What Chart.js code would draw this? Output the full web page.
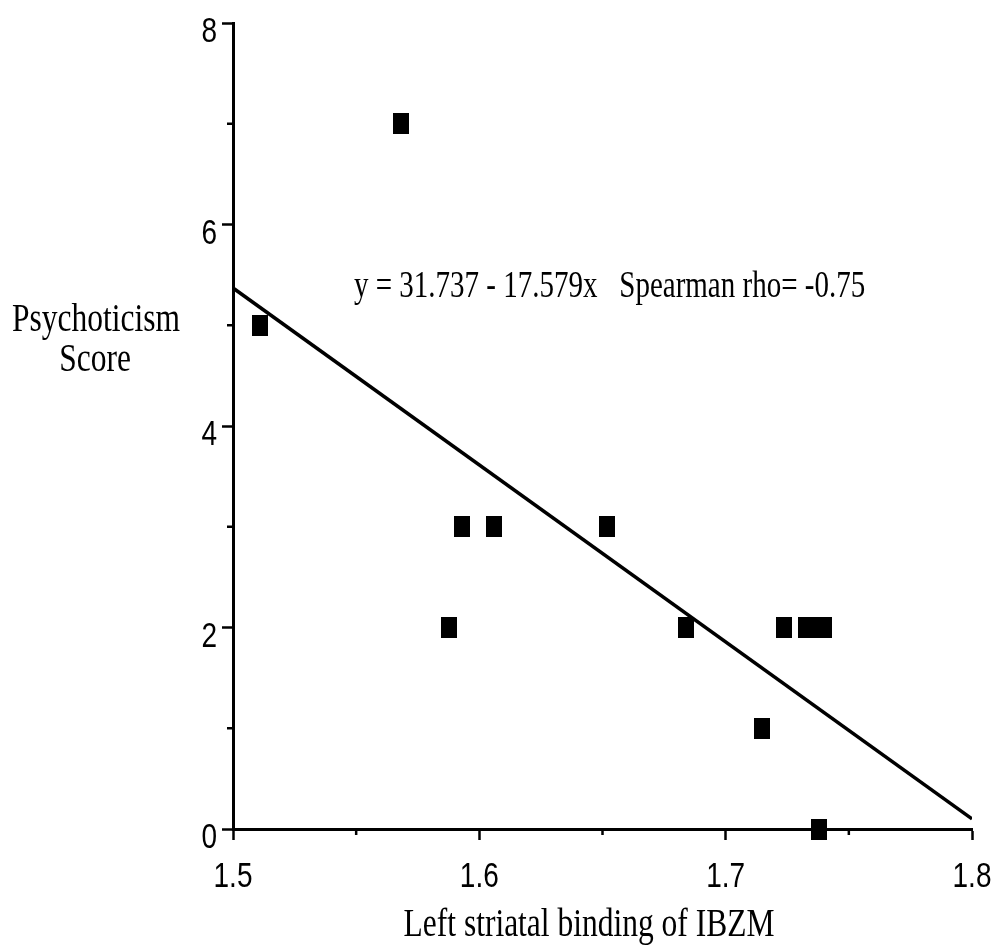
<!DOCTYPE html>
<html>
<head>
<meta charset="utf-8">
<script src="https://cdn.jsdelivr.net/npm/chart.js@4.4.1/dist/chart.umd.min.js"></script>
<style>
  html, body { margin: 0; padding: 0; background: #fff; }
  #wrap { width: 997px; height: 946px; position: relative; }
</style>
</head>
<body>
<div id="wrap"><canvas id="scoreChart"></canvas></div>
<script>
// scatter values
const bindingValues = [1.511, 1.568, 1.5875, 1.593, 1.606, 1.652, 1.684, 1.7146, 1.7235, 1.7326, 1.7362, 1.7399, 1.7377];
const scoreValues   = [5, 7, 2, 3, 3, 3, 2, 1, 2, 2, 2, 2, 0];

// fitted line ends (y = 31.737 - 17.579x)
const lineX = [1.5, 1.8];
const lineY = [5.37, 0.10];

const xTickLabels = ['1.5', '1.6', '1.7', '1.8'];
const yTickLabels = ['0', '2', '4', '6', '8'];

const xTitle = 'Left striatal binding of IBZM';
const yTitle = ['Psychoticism', 'Score'];
const fitNote = 'y = 31.737 - 17.579x   Spearman rho= -0.75';

const STRETCH = 1.28;
const serif = '"Liberation Serif", "Times New Roman", serif';
const sans = '"Liberation Sans", Arial, sans-serif';

// tall black block marker like the scanned figure
const marker = document.createElement('canvas');
marker.width = 16;
marker.height = 21;
const mctx = marker.getContext('2d');
mctx.fillStyle = '#000';
mctx.fillRect(0, 0, 16, 21);

function isMajorX(v) {
    return Math.abs(v * 10 - Math.round(v * 10)) < 1e-6;
}
function isMajorY(v) {
    return Math.round(v) % 2 === 0;
}

function stretchedText(ctx, text, x, y, font, align) {
    ctx.save();
    ctx.font = font;
    ctx.textAlign = align;
    ctx.textBaseline = 'alphabetic';
    ctx.fillStyle = '#000';
    ctx.translate(x, y);
    ctx.scale(1, STRETCH);
    ctx.fillText(text, 0, 0);
    ctx.restore();
}

const axisDecor = {
    id: 'axisDecor',
    afterDraw(chart) {
        const ctx = chart.ctx;
        const xs = chart.scales.x;
        const ys = chart.scales.y;
        const area = chart.chartArea;

        ctx.save();
        ctx.strokeStyle = '#000';
        ctx.lineWidth = 2.5;
        // minor ticks
        ys.ticks.forEach(t => {
            if (!isMajorY(t.value)) {
                const py = ys.getPixelForValue(t.value);
                ctx.beginPath();
                ctx.moveTo(area.left - 6, py);
                ctx.lineTo(area.left, py);
                ctx.stroke();
            }
        });
        xs.ticks.forEach(t => {
            if (!isMajorX(t.value)) {
                const px = xs.getPixelForValue(t.value);
                ctx.beginPath();
                ctx.moveTo(px, area.bottom);
                ctx.lineTo(px, area.bottom + 6);
                ctx.stroke();
            }
        });
        ctx.restore();

        const tickFont = '28px ' + sans;
        xTickLabels.forEach(lbl => {
            const px = xs.getPixelForValue(parseFloat(lbl));
            stretchedText(ctx, lbl, px, area.bottom + 58, tickFont, 'center');
        });
        yTickLabels.forEach(lbl => {
            const py = ys.getPixelForValue(parseFloat(lbl));
            stretchedText(ctx, lbl, area.left - 16, py + 19, tickFont, 'right');
        });

        const titleFont = '31.5px ' + serif;
        stretchedText(ctx, xTitle, 589, 936, titleFont, 'center');
        stretchedText(ctx, yTitle[0], 96, 331, titleFont, 'center');
        stretchedText(ctx, yTitle[1], 95, 371, titleFont, 'center');
        stretchedText(ctx, fitNote, 354, 297, '29px ' + serif, 'left');
    }
};

const ctx = document.getElementById('scoreChart').getContext('2d');

const scoreChart = new Chart(ctx, {
    type: 'scatter',
    data: {
        datasets: [{
            label: 'Subjects',
            data: bindingValues.map((b, i) => ({ x: b, y: scoreValues[i] })),
            pointStyle: marker,
            pointRadius: 10,
            pointHoverRadius: 10,
            clip: false,
        }, {
            type: 'line',
            label: 'Fit',
            data: lineX.map((x, i) => ({ x: x, y: lineY[i] })),
            borderColor: '#000',
            borderWidth: 3.5,
            pointRadius: 0,
            fill: false,
            tension: 0,
        }],
    },
    options: {
        responsive: true,
        maintainAspectRatio: false,
        animation: false,
        events: [],
        layout: {
            padding: { left: 0, top: 23, right: 25, bottom: 0 },
        },
        plugins: {
            legend: { display: false },
            tooltip: { enabled: false },
        },
        scales: {
            x: {
                type: 'linear',
                min: 1.5,
                max: 1.8,
                afterFit: (scale) => { scale.height = 117; },
                border: { display: true, color: '#000', width: 3 },
                grid: {
                    drawOnChartArea: false,
                    drawTicks: true,
                    tickLength: 11,
                    tickWidth: 2.5,
                    tickColor: (c) => (c.tick && isMajorX(c.tick.value) ? '#000' : 'rgba(0,0,0,0)'),
                },
                ticks: {
                    display: false,
                    stepSize: 0.05,
                    autoSkip: false,
                },
            },
            y: {
                type: 'linear',
                min: 0,
                max: 8,
                afterFit: (scale) => { scale.width = 233; },
                border: { display: true, color: '#000', width: 3 },
                grid: {
                    drawOnChartArea: false,
                    drawTicks: true,
                    tickLength: 11,
                    tickWidth: 2.5,
                    tickColor: (c) => (c.tick && isMajorY(c.tick.value) ? '#000' : 'rgba(0,0,0,0)'),
                },
                ticks: {
                    display: false,
                    stepSize: 1,
                    autoSkip: false,
                },
            },
        },
    },
    plugins: [axisDecor],
});
</script>
</body>
</html>
